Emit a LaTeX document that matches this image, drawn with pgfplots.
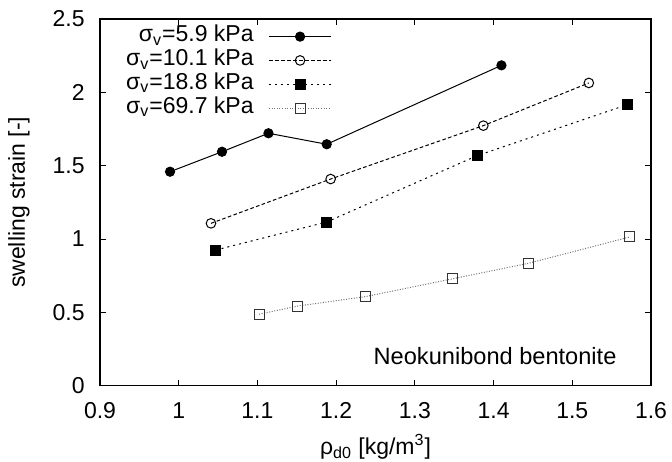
\documentclass[border=0pt]{standalone}
\usepackage{fontspec}
\setmainfont{Liberation Sans}
\usepackage{pgfplots}
\pgfplotsset{compat=1.18}

\begin{document}
\begin{tikzpicture}[font=\fontsize{11.5}{13.5}\selectfont]
\begin{axis}[
    at={(0,0)}, anchor=south west,
    scale only axis, width=275.5pt, height=183.35pt,
    xmin=0.9, xmax=1.6, ymin=0, ymax=2.5,
    xtick={0.9,1,1.1,1.2,1.3,1.4,1.5,1.6},
    ytick={0,0.5,1,1.5,2,2.5},
    tick align=inside, major tick length=3pt,
    axis line style={line width=0.6pt},
    every tick/.style={black, line width=0.5pt},
    /pgf/number format/assume math mode=true,
    xticklabel style={inner sep=0pt, anchor=north, yshift=-8.4pt},
    yticklabel style={inner sep=0pt, anchor=east, xshift=-7.5pt},
    xlabel={ρ\textsubscript{d0} [kg/m\textsuperscript{3}]},
    ylabel={swelling strain [-]},
    xlabel style={at={(axis description cs:0.5,-0.1876)}, anchor=base, inner sep=0pt},
    ylabel style={at={(axis description cs:-0.147,0.5)}, anchor=center, inner sep=0pt},
    legend plot pos=right,
    legend cell align=right,
    legend style={at={(0.421,0.983)}, anchor=north east, draw=none, fill=none,
        inner sep=0pt, row sep=0.9pt,
        nodes={inner sep=0pt, text height=8pt, text depth=3pt},
        /tikz/every odd column/.append style={column sep=7.5pt}},
    legend image code/.code={\draw[mark repeat=2,mark phase=2,#1] plot coordinates {(0pt,0pt) (15.5pt,0pt) (31pt,0pt)};},
]

% sigma_v = 5.9 kPa
\addplot[black, line width=0.5pt, mark=*, mark size=2.3pt] coordinates {
    (0.989,1.459) (1.055,1.595) (1.114,1.721) (1.188,1.646) (1.410,2.184)
};
\addlegendentry{σ\textsubscript{v}=5.9 kPa}

% sigma_v = 10.1 kPa
\addplot[black, line width=0.5pt, dash pattern=on 1.8pt off 1.2pt, mark=o, mark size=2.4pt, mark options={solid}] coordinates {
    (1.041,1.107) (1.193,1.409) (1.387,1.773) (1.521,2.064)
};
\addlegendentry{σ\textsubscript{v}=10.1 kPa}

% sigma_v = 18.8 kPa
\addplot[black, line width=0.5pt, dash pattern=on 1pt off 2pt, mark=square*, mark size=2.5pt, mark options={solid}] coordinates {
    (1.047,0.925) (1.188,1.116) (1.379,1.568) (1.570,1.916)
};
\addlegendentry{σ\textsubscript{v}=18.8 kPa}

% sigma_v = 69.7 kPa
\addplot[black!55, line width=0.5pt, dash pattern=on 0.5pt off 0.8pt, mark=square, mark size=2.5pt, mark options={solid, draw=black!80}] coordinates {
    (1.102,0.487) (1.151,0.543) (1.237,0.607) (1.348,0.729) (1.444,0.834) (1.573,1.014)
};
\addlegendentry{σ\textsubscript{v}=69.7 kPa}

\node[anchor=base east, inner sep=0pt, font=\fontsize{11.8}{14}\selectfont] at (rel axis cs:0.938,0.0565) {Neokunibond bentonite};
\end{axis}
\path (-50pt,-37.65pt) rectangle (286pt,192.85pt);
\end{tikzpicture}
\end{document}
